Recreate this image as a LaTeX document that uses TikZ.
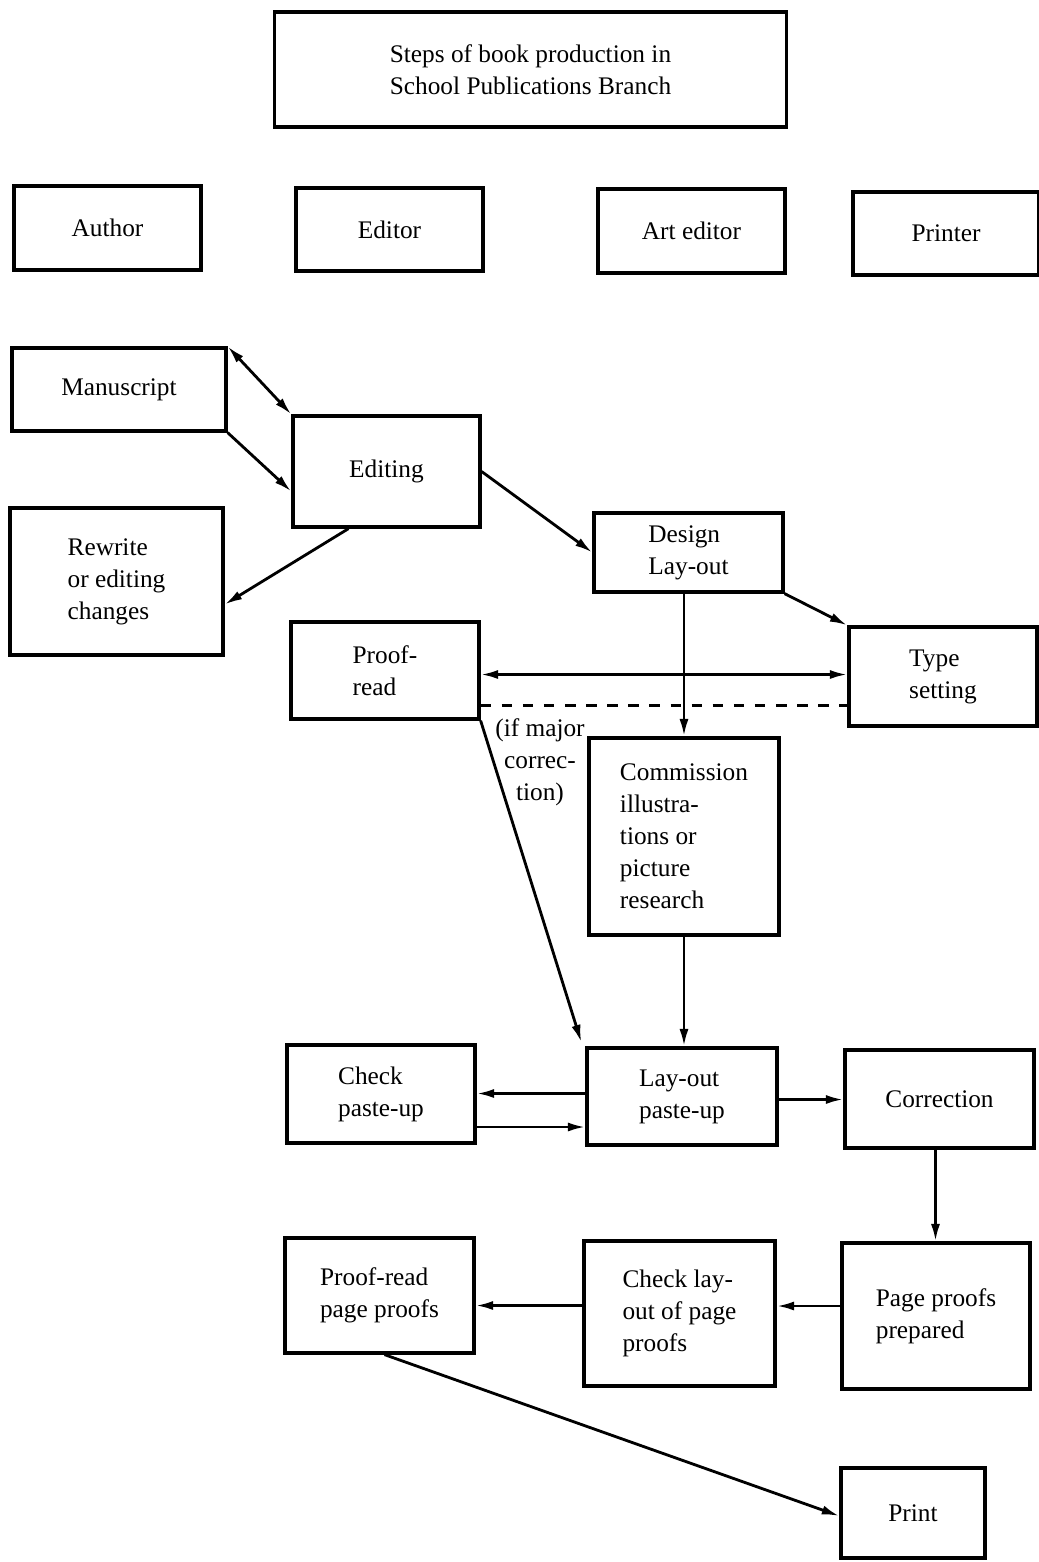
\documentclass[tikz,border=0pt]{standalone}
\usepackage{fontspec}
\setmainfont{Liberation Serif}
\usepackage{tikz}
\usetikzlibrary{calc,arrows.meta}

\begin{document}
\begin{tikzpicture}[x=0.01cm,y=-0.01cm,
  box/.style={draw,line width=0.9pt,align=left,inner sep=0pt,
    font=\fontsize{7.2}{9.1}\selectfont},
  link/.style={line width=0.8pt,-{Latex[length=5pt,width=2.6pt]}},
  >={Latex[length=5pt,width=2.6pt]}]
\useasboundingbox (0,0) rectangle (1039,1562);
\node[box,minimum width=5.11cm,minimum height=1.15cm] (title) at (530.5,69.5) {Steps of book production in\\School Publications Branch};
\node[box,minimum width=1.87cm,minimum height=0.84cm] (author) at (107.5,228) {Author};
\node[box,minimum width=1.87cm,minimum height=0.83cm] (editor) at (389.5,229.5) {Editor};
\node[box,minimum width=1.87cm,minimum height=0.84cm] (arted) at (691.5,231) {Art editor};
\node[box,minimum width=1.86cm,minimum height=0.83cm] (printer) at (946,233.5) {Printer};
\node[box,minimum width=2.14cm,minimum height=0.83cm] (manuscript) at (119,389.5) {Manuscript};
\node[box,minimum width=1.87cm,minimum height=1.11cm] (editing) at (386.5,471.5) {Editing};
\node[box,minimum width=2.13cm,minimum height=1.47cm] (rewrite) at (116.5,581.5) {Rewrite\\or editing\\changes};
\node[box,minimum width=1.89cm,minimum height=0.79cm] (design) at (688.5,552.5) {Design\\Lay-out};
\node[box,minimum width=1.88cm,minimum height=0.97cm] (proofread) at (385,670.5) {Proof-\\read};
\node[box,minimum width=1.88cm,minimum height=0.99cm] (typeset) at (943,676.5) {Type\\setting};
\node[box,minimum width=1.90cm,minimum height=1.97cm] (commission) at (684,836.5) {Commission\\illustra-\\tions or\\picture\\research};
\node[box,minimum width=1.88cm,minimum height=0.98cm] (checkpaste) at (381,1094) {Check\\paste-up};
\node[box,minimum width=1.90cm,minimum height=0.97cm] (layout) at (682,1096.5) {Lay-out\\paste-up};
\node[box,minimum width=1.89cm,minimum height=0.98cm] (correction) at (939.5,1099) {Correction};
\node[box,minimum width=1.89cm,minimum height=1.15cm] (proofpages) at (379.5,1295.5) {Proof-read\\page proofs};
\node[box,minimum width=1.91cm,minimum height=1.45cm] (checklayout) at (679.5,1313.5) {Check lay-\\out of page\\proofs};
\node[box,minimum width=1.88cm,minimum height=1.46cm] (pageproofs) at (936,1316) {Page proofs\\prepared};
\node[box,minimum width=1.44cm,minimum height=0.90cm] (print) at (913,1513) {Print};
\node[align=center,inner sep=0pt,font=\fontsize{7.2}{9.1}\selectfont] (major) at (540,762) {(if major\\correc-\\tion)};

\draw[link,<->] (manuscript.north east) -- (editing.north west);
\draw[link] (manuscript.south east) -- ($(editing.west)+(0,20)$);
\draw[link] ($(editing.south)+(-38,0)$) -- ($(rewrite.east)+(0,23)$);
\draw[link] (editing.east) -- (design.west);
\draw[link] (design.south east) -- (typeset.north west);
\draw[link] (design.south -| commission.north) -- (commission.north);
\draw[link,<->] ($(proofread.east)+(0,4)$) coordinate (pr) -- (pr -| typeset.west);
\draw[line width=0.8pt,dashed] ($(proofread.east)+(0,35)$) coordinate (pd) -- (pd -| typeset.west);
\draw[link] (proofread.south east) -- ($(layout.north west)+(-4,-4)$);
\draw[link] (commission.south) -- (commission.south |- layout.north);
\draw[link] ($(layout.west)+(0,-3)$) coordinate (lc) -- (lc -| checkpaste.east);
\draw[link] ($(checkpaste.east)+(0,33)$) coordinate (cl) -- (cl -| layout.west);
\draw[link] ($(layout.east)+(0,3)$) coordinate (lr) -- (lr -| correction.west);
\draw[link] ($(correction.south)+(-4,0)$) coordinate (cp) -- (cp |- pageproofs.north);
\draw[link] ($(pageproofs.west)+(0,-10)$) coordinate (pc) -- (pc -| checklayout.east);
\draw[link] ($(checklayout.west)+(0,-8)$) coordinate (cr) -- (cr -| proofpages.east);
\draw[link] ($(proofpages.south)+(5,0)$) -- ($(print.west)+(0,3)$);
\end{tikzpicture}
\end{document}
